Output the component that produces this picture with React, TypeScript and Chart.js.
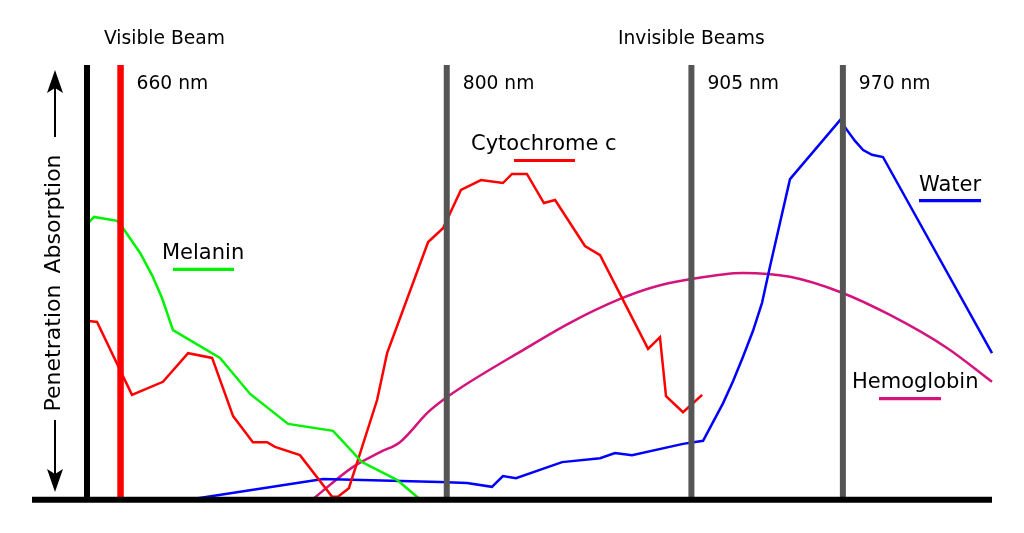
import { useEffect, useRef } from 'react';
import { Chart, registerables } from 'chart.js';

Chart.register(...registerables);

// Wavelength range of the plot (nm) and relative absorption range (0-100)
const X_MIN = 622;
const X_MAX = 1034;
const Y_MIN = 0;
const Y_MAX = 100;

// Left (black) axis position in nm
const AXIS_NM = 645.6;

// Beams
const beamNm = [660, 800, 905, 970];
const beamLabels = ['660 nm', '800 nm', '905 nm', '970 nm'];

// Melanin
const melaninNm = [646.5, 648.6, 658.5, 661.1, 668.4, 673.5, 677.8, 682.5, 702.7, 715.6, 731.9, 751.2, 763.6, 778.6, 787.7];
const melaninAbs = [63.8, 65.0, 64.1, 62.4, 56.7, 51.6, 46.3, 38.9, 32.5, 24.2, 17.3, 15.7, 8.5, 4.4, 0.3];

// Cytochrome c
const cytoNm = [646.5, 649.9, 664.9, 678.2, 689.0, 699.3, 708.3, 716.8, 722.9, 726.3, 737.0, 750.8, 753.3, 758.0, 761.9, 770.1, 774.4, 792.0, 798.4, 806.1, 814.7, 824.1, 828.0, 834.4, 841.7, 846.5, 859.3, 865.8, 886.4, 891.5, 894.1, 901.4, 909.6];
const cytoAbs = [41.0, 40.8, 24.0, 27.0, 33.6, 32.5, 19.1, 13.1, 13.1, 12.0, 10.1, 0.5, 0.5, 2.5, 9.0, 22.8, 33.6, 59.2, 62.4, 71.2, 73.5, 72.8, 74.9, 74.9, 68.2, 68.9, 58.3, 56.2, 34.6, 37.3, 23.7, 20.0, 24.0];

// Water
const waterNm = [691.1, 746.9, 797.1, 808.7, 819.4, 824.1, 829.7, 849.5, 865.8, 872.2, 879.5, 901.4, 910.0, 918.6, 922.9, 927.1, 931.4, 935.3, 938.7, 947.3, 968.8, 971.8, 975.2, 978.7, 982.5, 987.2, 1034.0];
const waterAbs = [0, 4.6, 3.9, 3.7, 2.8, 5.3, 4.8, 8.5, 9.4, 10.6, 10.1, 12.7, 13.4, 22.1, 27.2, 32.7, 38.7, 45.2, 53.5, 73.7, 87.3, 85.0, 82.5, 80.4, 79.3, 78.8, 33.6];

// Hemoglobin
const hemoNm = [742.6, 759.8, 771.4, 779.9, 792.0, 798.4, 810.0, 831.4, 852.9, 874.4, 888.5, 903.1, 927.1, 947.3, 968.8, 990.2, 1014.7, 1034.0];
const hemoAbs = [0, 7.4, 10.8, 13.1, 20.0, 22.8, 27.0, 33.9, 40.6, 46.1, 48.8, 50.5, 52.1, 51.2, 47.7, 42.4, 34.8, 27.0];

const seriesNames = ['Melanin', 'Cytochrome c', 'Water', 'Hemoglobin'];

const GREEN = '#00f200';
const RED = '#ff0000';
const BLUE = '#0000ff';
const MAGENTA = '#d4147c';
const GRAY = '#555555';
const FONT = '"DejaVu Sans", "Bitstream Vera Sans", sans-serif';

const zip = (xs: number[], ys: number[]) => xs.map((x, i) => ({ x, y: ys[i] }));

const overlayPlugin = {
  id: 'overlay',
  afterDatasetsDraw(chart: any) {
    const { ctx } = chart;
    const xs = chart.scales.x;
    ctx.save();
    ctx.fillStyle = '#000';
    ctx.textBaseline = 'alphabetic';
    ctx.textAlign = 'left';

    // group titles
    ctx.font = `18.7px ${FONT}`;
    ctx.fillText('Visible Beam', 104, 44);
    ctx.fillText('Invisible Beams', 618, 44);

    // beam labels
    beamNm.forEach((nm, i) => {
      ctx.fillText(beamLabels[i], xs.getPixelForValue(nm) + 16, 88.5);
    });

    // series labels with colour swatches
    const legend = [
      { name: seriesNames[0], color: GREEN, tx: 162, ty: 259, sx0: 173, sx1: 234, sy: 269.3 },
      { name: seriesNames[1], color: RED, tx: 471, ty: 150, sx0: 514, sx1: 575, sy: 160.5 },
      { name: seriesNames[2], color: BLUE, tx: 919, ty: 190.5, sx0: 919, sx1: 981, sy: 200.7 },
      { name: seriesNames[3], color: MAGENTA, tx: 852, ty: 388, sx0: 879, sx1: 941, sy: 398.7 },
    ];
    ctx.font = `21px ${FONT}`;
    legend.forEach((l) => {
      ctx.fillStyle = '#000';
      ctx.fillText(l.name, l.tx, l.ty);
      ctx.strokeStyle = l.color;
      ctx.lineWidth = 3.2;
      ctx.beginPath();
      ctx.moveTo(l.sx0, l.sy);
      ctx.lineTo(l.sx1, l.sy);
      ctx.stroke();
    });

    // vertical axis caption
    ctx.fillStyle = '#000';
    ctx.font = `22px ${FONT}`;
    ctx.textAlign = 'center';
    const drawRot = (t: string, cx: number, cy: number) => {
      ctx.save();
      ctx.translate(cx, cy);
      ctx.rotate(-Math.PI / 2);
      ctx.fillText(t, 0, 0);
      ctx.restore();
    };
    drawRot('Absorption', 59.5, 214);
    drawRot('Penetration', 59.5, 348);

    // arrows
    const ax = 55;
    ctx.strokeStyle = '#000';
    ctx.lineWidth = 2;
    ctx.beginPath();
    ctx.moveTo(ax, 137);
    ctx.lineTo(ax, 86);
    ctx.moveTo(ax, 420);
    ctx.lineTo(ax, 476);
    ctx.stroke();
    ctx.fillStyle = '#000';
    ctx.beginPath();
    ctx.moveTo(ax, 70);
    ctx.lineTo(ax + 8, 93);
    ctx.lineTo(ax, 88);
    ctx.lineTo(ax - 8, 93);
    ctx.closePath();
    ctx.fill();
    ctx.beginPath();
    ctx.moveTo(ax, 492);
    ctx.lineTo(ax + 8, 469);
    ctx.lineTo(ax, 474);
    ctx.lineTo(ax - 8, 469);
    ctx.closePath();
    ctx.fill();

    ctx.restore();
  },
};

export default function App() {
  const ref = useRef<HTMLCanvasElement>(null);

  useEffect(() => {
    if (!ref.current) return;
    const lineBase = { pointRadius: 0, fill: false, clip: false as any, tension: 0 };
    const datasets: any[] = [
      // bottom axis
      { ...lineBase, data: [{ x: X_MIN, y: -0.2 }, { x: X_MAX, y: -0.2 }], borderColor: '#000', borderWidth: 6 },
      // left axis
      { ...lineBase, data: [{ x: AXIS_NM, y: 0 }, { x: AXIS_NM, y: Y_MAX }], borderColor: '#000', borderWidth: 6 },
      // beams
      ...beamNm.map((nm, i) => ({
        ...lineBase,
        data: [{ x: nm, y: 0 }, { x: nm, y: Y_MAX }],
        borderColor: i === 0 ? RED : GRAY,
        borderWidth: i === 0 ? 6.5 : 6,
      })),
      // curves
      { ...lineBase, label: seriesNames[0], data: zip(melaninNm, melaninAbs), borderColor: GREEN, borderWidth: 2.5 },
      { ...lineBase, label: seriesNames[1], data: zip(cytoNm, cytoAbs), borderColor: RED, borderWidth: 2.5 },
      { ...lineBase, label: seriesNames[2], data: zip(waterNm, waterAbs), borderColor: BLUE, borderWidth: 2.5 },
      {
        ...lineBase,
        label: seriesNames[3],
        data: zip(hemoNm, hemoAbs),
        borderColor: MAGENTA,
        borderWidth: 2.5,
        cubicInterpolationMode: 'monotone',
      },
    ];

    const chart = new Chart(ref.current, {
      type: 'line',
      data: { datasets },
      options: {
        animation: false,
        responsive: false,
        devicePixelRatio: 1,
        events: [],
        parsing: false as any,
        layout: { padding: { left: 32, right: 32, top: 65, bottom: 34 } },
        scales: {
          x: { type: 'linear', min: X_MIN, max: X_MAX, display: false },
          y: { type: 'linear', min: Y_MIN, max: Y_MAX, display: false },
        },
        plugins: { legend: { display: false }, tooltip: { enabled: false } },
      },
      plugins: [overlayPlugin],
    });
    return () => chart.destroy();
  }, []);

  return (
    <div style={{ position: 'fixed', left: 0, top: 0, width: 1024, height: 533, background: '#fff' }}>
      <canvas ref={ref} width={1024} height={533} style={{ display: 'block' }} />
    </div>
  );
}
